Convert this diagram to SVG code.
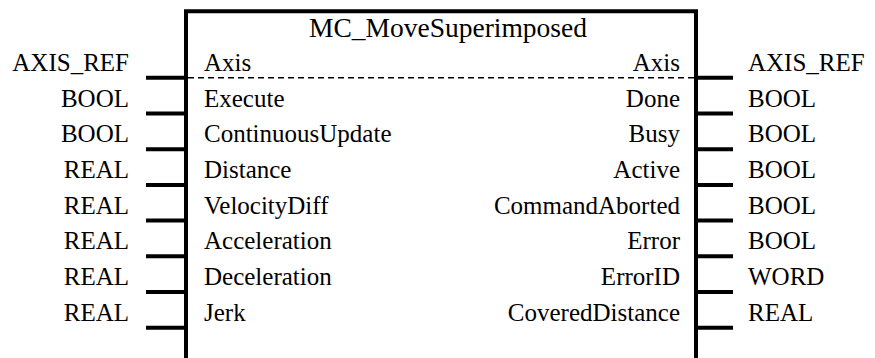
<svg xmlns="http://www.w3.org/2000/svg" width="875" height="358" viewBox="0 0 875 358">
  <style>
    text { font-family: "Liberation Serif", "Times New Roman", serif; font-size: 25px; fill: #000; }
    .r { text-anchor: end; }
    .m { text-anchor: middle; }
    .title { font-size: 27.5px; }
    .edge { stroke: #000; stroke-width: 4; fill: none; }
    .stub { stroke: #000; stroke-width: 4; }
    .dash { stroke: #000; stroke-width: 1.5; stroke-dasharray: 6 4; }
  </style>
  <rect width="875" height="358" fill="#fff"/>

  <!-- function block body (open at the bottom) -->
  <g id="block">
    <path class="edge" d="M186 362 V11.3 H696 V362"/>
    <line class="dash" x1="188" y1="77.7" x2="694" y2="77.7"/>
    <text class="m title" x="448" y="36.7">MC_MoveSuperimposed</text>
  </g>

  <!-- pin stubs -->
  <g id="connectors">
    <g class="stub">
      <line x1="146" y1="77.7" x2="186" y2="77.7"/>
      <line x1="146" y1="113.5" x2="186" y2="113.5"/>
      <line x1="146" y1="149.2" x2="186" y2="149.2"/>
      <line x1="146" y1="184.9" x2="186" y2="184.9"/>
      <line x1="146" y1="220.6" x2="186" y2="220.6"/>
      <line x1="146" y1="256.3" x2="186" y2="256.3"/>
      <line x1="146" y1="292" x2="186" y2="292"/>
      <line x1="146" y1="327.7" x2="186" y2="327.7"/>
      <line x1="696" y1="77.7" x2="733" y2="77.7"/>
      <line x1="696" y1="113.5" x2="733" y2="113.5"/>
      <line x1="696" y1="149.2" x2="733" y2="149.2"/>
      <line x1="696" y1="184.9" x2="733" y2="184.9"/>
      <line x1="696" y1="220.6" x2="733" y2="220.6"/>
      <line x1="696" y1="256.3" x2="733" y2="256.3"/>
      <line x1="696" y1="292" x2="733" y2="292"/>
      <line x1="696" y1="327.7" x2="733" y2="327.7"/>
    </g>
  </g>

  <!-- inputs -->
  <g id="inputs">
    <g id="in-axis"><text class="r" x="129" y="71">AXIS_REF</text><text x="204" y="71">Axis</text></g>
    <g id="in-execute"><text class="r" x="129" y="106.5">BOOL</text><text x="204" y="106.5">Execute</text></g>
    <g id="in-continuousupdate"><text class="r" x="129" y="142.2">BOOL</text><text x="204" y="142.2">ContinuousUpdate</text></g>
    <g id="in-distance"><text class="r" x="129" y="177.9">REAL</text><text x="204" y="177.9">Distance</text></g>
    <g id="in-velocitydiff"><text class="r" x="129" y="213.6">REAL</text><text x="204" y="213.6">VelocityDiff</text></g>
    <g id="in-acceleration"><text class="r" x="129" y="249.3">REAL</text><text x="204" y="249.3">Acceleration</text></g>
    <g id="in-deceleration"><text class="r" x="129" y="285">REAL</text><text x="204" y="285">Deceleration</text></g>
    <g id="in-jerk"><text class="r" x="129" y="320.7">REAL</text><text x="204" y="320.7">Jerk</text></g>
  </g>

  <!-- outputs -->
  <g id="outputs">
    <g id="out-axis"><text class="r" x="680" y="71">Axis</text><text x="748" y="71">AXIS_REF</text></g>
    <g id="out-done"><text class="r" x="680" y="106.5">Done</text><text x="748" y="106.5">BOOL</text></g>
    <g id="out-busy"><text class="r" x="680" y="142.2">Busy</text><text x="748" y="142.2">BOOL</text></g>
    <g id="out-active"><text class="r" x="680" y="177.9">Active</text><text x="748" y="177.9">BOOL</text></g>
    <g id="out-commandaborted"><text class="r" x="680" y="213.6">CommandAborted</text><text x="748" y="213.6">BOOL</text></g>
    <g id="out-error"><text class="r" x="680" y="249.3">Error</text><text x="748" y="249.3">BOOL</text></g>
    <g id="out-errorid"><text class="r" x="680" y="285">ErrorID</text><text x="748" y="285">WORD</text></g>
    <g id="out-covereddistance"><text class="r" x="680" y="320.7">CoveredDistance</text><text x="748" y="320.7">REAL</text></g>
  </g>
</svg>
